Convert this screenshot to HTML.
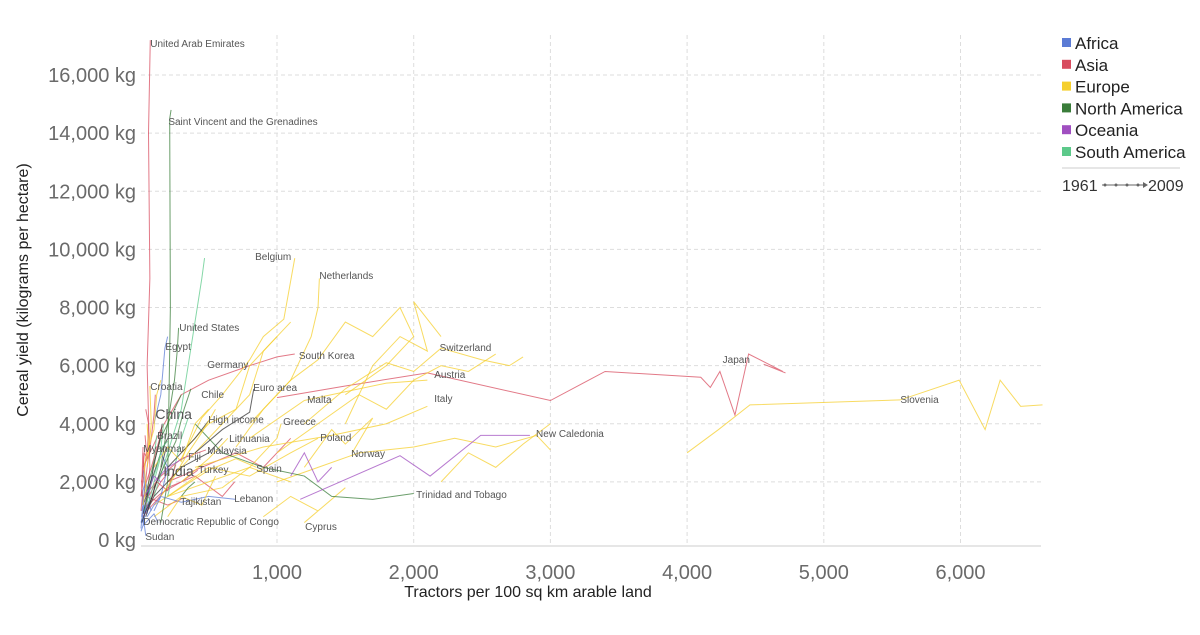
<!DOCTYPE html>
<html><head><meta charset="utf-8"><style>
body{margin:0;background:#fff;}
svg text{font-family:"Liberation Sans",sans-serif;}
</style></head><body>
<svg id="c" width="1200" height="630"></svg>
<script>
const regions=["Africa","Asia","Europe","North America","Oceania","South America"];
const regionColors=["#5b7bd5","#d84c5f","#f5cf2d","#3a7d3a","#a04fc0","#5cc98a"];
const xTicks=[1000,2000,3000,4000,5000,6000];
const xTickLabels=["1,000","2,000","3,000","4,000","5,000","6,000"];
const yTicks=[0,2000,4000,6000,8000,10000,12000,14000,16000];
const yTickLabels=["0 kg","2,000 kg","4,000 kg","6,000 kg","8,000 kg","10,000 kg","12,000 kg","14,000 kg","16,000 kg"];
const seriesRegion=["Asia","Asia","Asia","Asia","Asia","Asia","Asia","Asia","Asia","Asia","Asia",
"Europe","Europe","Europe","Europe","Europe","Europe","Europe","Europe","Europe","Europe","Europe","Europe","Europe","Europe","Europe","Europe","Europe","Europe","Europe","Europe","Europe",
"North America","North America","North America","North America",
"South America","South America","South America",
"Africa","Africa","Africa","Africa","Africa",
"Oceania","Oceania","Oceania",
"Aggregate","Aggregate","Aggregate","Aggregate",
"Africa","Africa","Africa","Africa","Africa","Asia","Asia","Asia","Asia","Europe","Europe","Europe","Europe","South America","South America","North America","North America","Aggregate","Aggregate","Aggregate","Oceania","Africa","Asia","Europe"];
const seriesPoints=[
[[40,900],[70,2500],[50,6000],[70,9000],[60,14000],[73,17200]],
[[1000,4900],[1500,5300],[2100,5750],[3000,4800],[3400,5800],[4100,5600],[4170,5250],[4240,5800],[4350,4300],[4450,6400],[4700,5800],[4560,6050],[4720,5750]],
[[20,2500],[150,3800],[300,5000],[500,5500],[800,6000],[1000,6300],[1130,6400]],
[[50,1000],[200,1800],[400,2200],[600,1500],[690,2000]],
[[30,1500],[150,2200],[300,2800],[480,3100]],
[[20,800],[60,1200],[100,1600],[150,2000],[200,2300]],
[[20,1200],[50,2500],[80,3500],[100,4300],[110,5000]],
[[30,1100],[150,1600],[300,2000],[420,2400]],
[[10,1500],[15,2500],[20,3200]],
[[40,1500],[200,1200],[300,1400]],
[[200,2000],[700,3000],[900,2500],[1100,3500]],
[[300,2800],[450,4200],[600,5000],[800,6200],[900,7000],[1050,7600],[1130,9700]],
[[700,3200],[900,4500],[1100,5500],[1250,7000],[1300,8000],[1310,9000]],
[[1200,4000],[1500,5200],[1800,6100],[2000,5800],[2200,6600],[2500,6200],[2700,6000],[2800,6300]],
[[800,3500],[1200,4800],[1500,5100],[1800,5400],[2100,5500]],
[[400,2500],[900,3200],[1400,3600],[1800,4000],[2100,4600]],
[[4000,3000],[4230,3800],[4460,4650],[5560,4820],[5990,5500],[6180,3800],[6290,5500],[6440,4600],[6600,4650]],
[[300,3000],[500,4000],[700,4500],[800,6000],[900,6500],[1000,7000]],
[[800,4000],[1100,5500],[1300,6200],[1500,7500],[1700,7000],[1900,8000],[2000,7000],[1800,6000],[1500,5000]],
[[200,1500],[500,2000],[800,2500],[1000,3500],[1030,4000]],
[[200,1500],[500,2500],[800,2200],[1100,3000],[1300,3500]],
[[1200,2500],[1400,3800],[1500,3300],[1700,4200],[1550,3000]],
[[100,1200],[300,1800],[500,2400],[700,2800],[850,2500]],
[[300,2000],[500,2800],[640,3500]],
[[900,800],[1100,1500],[1300,1000],[1500,1800],[1200,600]],
[[50,2500],[80,4000],[70,5300]],
[[200,2000],[400,3000],[600,4000],[800,5000],[900,6500],[1000,7000],[1100,7500]],
[[1000,3000],[1300,4000],[1600,5000],[1800,4500],[2000,5500],[2200,6000],[2400,5800],[2600,6400]],
[[1000,2000],[1300,2500],[1600,3000],[2000,3200],[2300,3500],[2600,3200],[2900,3600],[3000,3100]],
[[1500,4000],[1700,6000],[1900,7000],[2100,6500],[2000,8200],[2200,7000]],
[[2200,2000],[2400,3000],[2600,2500],[2800,3300],[3000,4000]],
[[100,800],[300,1500],[600,1800],[800,2500],[1100,2000]],
[[150,600],[200,2000],[220,8000],[215,14500],[225,14800]],
[[150,2500],[200,4000],[250,5500],[270,6500],[280,7300]],
[[400,4000],[600,3000],[900,2500],[1200,2200],[1400,1500],[1700,1400],[2000,1600]],
[[300,1500],[350,1800],[400,2000]],
[[100,1500],[200,3000],[300,4500],[350,6000],[400,7500],[450,9000],[470,9700]],
[[50,1300],[80,2000],[100,2800],[120,3600]],
[[200,1500],[250,2500],[300,3500],[350,4200]],
[[100,4000],[150,5000],[180,6600],[200,7000]],
[[5,600],[10,700],[20,650]],
[[10,700],[30,500],[40,150]],
[[100,1000],[150,1500],[200,2500],[150,3000]],
[[50,800],[100,1200],[150,1500],[300,1300],[500,1500],[700,1400]],
[[1170,1400],[1900,2900],[2120,2200],[2490,3600],[2850,3600]],
[[100,2000],[200,2500],[350,2900]],
[[1100,2200],[1200,3000],[1300,2000],[1400,2500]],
[[200,2500],[300,3000],[400,3500],[500,4100]],
[[400,3000],[600,3800],[800,4400],[830,5200]],
[[30,1300],[60,1800],[100,2300],[150,3000],[200,3500]],
[[50,1000],[100,1500],[300,2500],[500,3000],[600,3500]],
[[5,400],[15,900],[25,600],[40,1100],[30,800]],
[[10,1000],[30,1400],[20,900],[60,1300],[80,1000]],
[[5,300],[20,500],[35,1200],[50,900],[70,1500]],
[[15,1200],[40,2000],[60,1500],[90,2200]],
[[20,500],[60,700],[100,900],[130,600]],
[[10,2000],[30,3000],[50,2800],[60,4000],[40,4500]],
[[30,1800],[80,2500],[130,3300],[160,3800]],
[[5,1500],[25,2200],[45,3000],[35,3600]],
[[60,1500],[120,2000],[200,1700],[260,2600]],
[[100,2500],[200,3200],[300,2700],[400,4000],[500,4500]],
[[150,1500],[250,2200],[350,3000],[450,3700],[550,4500]],
[[200,800],[300,1500],[450,1200],[550,2200]],
[[50,3000],[100,3800],[120,5000],[150,5500]],
[[30,1000],[70,1800],[120,2500],[160,3200],[200,3400]],
[[60,1200],[100,2000],[140,2700],[170,4000]],
[[100,1800],[180,2600],[260,3400],[320,4500],[370,5200]],
[[40,1600],[90,2500],[150,3500],[220,4200],[300,5000]],
[[20,900],[50,1500],[80,2100],[110,2800],[140,3400],[160,4000]],
[[40,800],[80,1400],[120,2000],[160,2600],[190,3200]],
[[10,600],[40,1000],[80,1400],[110,1900]],
[[20,1500],[60,1700],[100,2200],[150,2000]],
[[10,800],[20,1200],[15,1600],[30,1900],[25,2400]],
[[5,1000],[15,1500],[10,2000],[25,2500],[20,3000]],
[[20,1200],[40,1800],[30,2600],[60,3200],[50,4000]]
];
const labelNames=["United Arab Emirates","Saint Vincent and the Grenadines","Belgium","Netherlands","United States","Egypt","Germany","South Korea","Switzerland","Japan","Croatia","Euro area","Austria","Chile","Malta","Italy","Slovenia","China","High income","Greece","Brazil","New Caledonia","Lithuania","Poland","Myanmar","Malaysia","Fiji","Norway","India","Turkey","Spain","Trinidad and Tobago","Tajikistan","Lebanon","Democratic Republic of Congo","Cyprus","Sudan"];
const labelX=[73,205,840,1310,285,183,490,1160,2190,4260,73,826,2150,446,1220,2150,5560,110,497,1045,124,2895,650,1316,22,490,350,1542,168,424,848,2018,292,687,22,1206,37];
const labelY=[17100,14410,9780,9120,7330,6670,6050,6360,6640,6230,5300,5260,5710,5020,4850,4880,4850,4300,4160,4090,3610,3680,3510,3540,3160,3100,2890,2990,2340,2440,2480,1580,1340,1440,650,480,140];

const NS="http://www.w3.org/2000/svg";
const svg=document.getElementById('c');
const X0=140.3,XS=0.1367,Y0=540,YS=0.02906;
function sx(v){return X0+v*XS;}
function sy(v){return Y0-v*YS;}
function el(t,a,p){const e=document.createElementNS(NS,t);for(const k in a)e.setAttribute(k,a[k]);(p||svg).appendChild(e);return e;}
yTicks.forEach((v,i)=>{
 if(v>0){const g=el('line',{x1:141,x2:1041,y1:sy(v),y2:sy(v),stroke:'#ddd','stroke-dasharray':'4,3'});
 
 }
 const t=el('text',{x:136,y:sy(v)+7,'text-anchor':'end','font-size':20,fill:'#6a6a6a'});t.textContent=yTickLabels[i];
 
 
});
xTicks.forEach((v,i)=>{
 const g=el('line',{x1:sx(v),x2:sx(v),y1:35,y2:546,stroke:'#ddd','stroke-dasharray':'4,3'});
 
 
 const t=el('text',{x:sx(v),y:579,'text-anchor':'middle','font-size':20,fill:'#6a6a6a'});t.textContent=xTickLabels[i];
 
 
});
const ax=el('line',{x1:141,x2:1041,y1:546,y2:546,stroke:'#ccc'});


seriesPoints.forEach((pts,i)=>{
 const r=seriesRegion[i];const idx=regions.indexOf(r);
 const col=idx<0?'#333':regionColors[idx];
 const p=el('polyline',{points:pts.map(q=>sx(q[0])+','+sy(q[1])).join(' '),fill:'none',stroke:col,'stroke-width':1,'stroke-opacity':0.75});
 
 
});
labelNames.forEach((n,i)=>{
 const big=(n==="China"||n==="India");
 const t=el('text',{x:sx(labelX[i]),y:sy(labelY[i])+4,'font-size':big?14:10,fill:'#555'});t.textContent=n;
 
 
});
const yt=el('text',{x:0,y:0,transform:'translate(28,290) rotate(-90)','text-anchor':'middle','font-size':16,fill:'#222'});yt.textContent='Cereal yield (kilograms per hectare)';


const xt=el('text',{x:528,y:597,'text-anchor':'middle','font-size':16,fill:'#222'});xt.textContent='Tractors per 100 sq km arable land';


regions.forEach((r,i)=>{
 const y=43+i*21.8;
 const g=el('g',{});
 
 
 el('rect',{x:1062,y:y-5,width:9,height:9,fill:regionColors[i]},g);
 const t=el('text',{x:1075,y:y+6,'font-size':17,fill:'#222'},g);t.textContent=r;
});
const sep=el('line',{x1:1062,x2:1180,y1:168,y2:168,stroke:'#ddd','stroke-width':1.5});


const t1=el('text',{x:1062,y:191,'font-size':16,fill:'#333'});t1.textContent='1961';


const ar=el('line',{x1:1102,x2:1143,y1:185,y2:185,stroke:'#666'});


[1105,1116,1127,1138].forEach(x=>{const c=el('circle',{cx:x,cy:185,r:1.5,fill:'#666'});});
const ah=el('polygon',{points:'1143,182 1148,185 1143,188',fill:'#666'});


const t2=el('text',{x:1148,y:191,'font-size':16,fill:'#333'});t2.textContent='2009';


</script>
</body></html>
